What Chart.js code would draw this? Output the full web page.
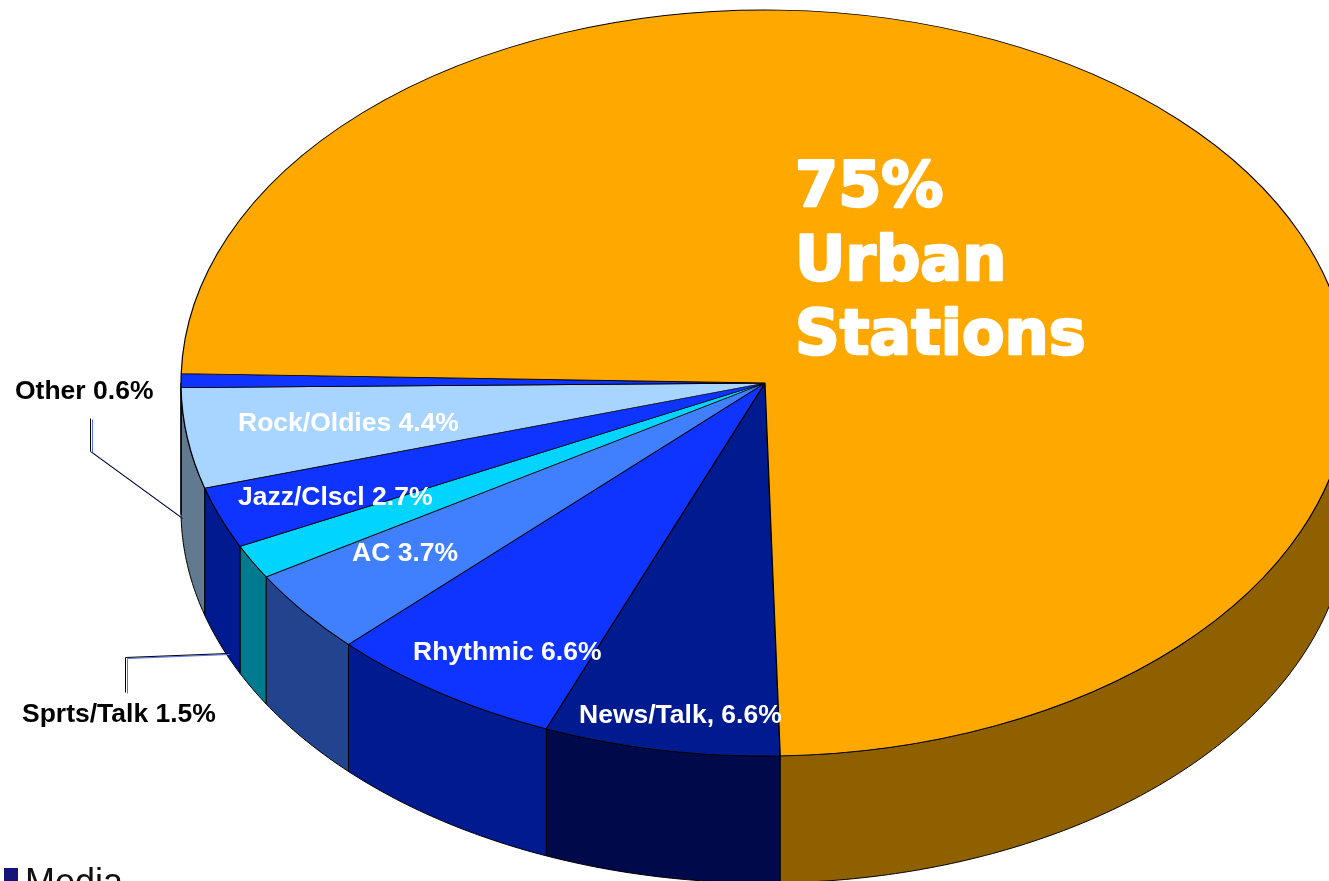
<!DOCTYPE html>
<html lang="en">
<head>
<meta charset="utf-8">
<title>Urban Stations</title>
<script src="https://cdn.jsdelivr.net/npm/chart.js@4/dist/chart.umd.min.js"></script>
<style>
  html, body { margin: 0; padding: 0; background: #fff; overflow: hidden; }
  canvas { display: block; }
</style>
</head>
<body>
<canvas id="grafico_pizza" width="1329" height="881"></canvas>
<script>
// fatias no sentido horário, começando embaixo
const categorias = ['News/Talk', 'Rhythmic', 'AC', 'Sprts/Talk', 'Jazz/Clscl', 'Rock/Oldies', 'Other', 'Urban']
const valores = [6.6, 6.6, 3.7, 1.5, 2.7, 4.4, 0.6, 75]
const separadores = [',', '', '', '', '', '', '', '']
const coresTopo = ['#001a8f', '#1034ff', '#4080ff', '#00d4ff', '#1034ff', '#a8d5ff', '#1034ff', '#ffa800']
const coresLado = ['#000a4a', '#001a8f', '#22448f', '#007a8f', '#001a8f', '#627a90', '#001a8f', '#8f6000']

// posição dos textos (x esquerdo, linha de base) e cor
const posRotulos = [[579, 723], [413, 660], [352, 561], [22, 722], [238, 505], [238, 431], [15, 399], [795, 206]]
const corRotulos = ['#fff', '#fff', '#fff', '#000', '#fff', '#fff', '#000', '#fff']

// linhas de chamada das fatias pequenas
const chamadas = [
  [[90, 418], [90, 451], [182, 518]],
  [[125, 692], [125, 657], [227, 653]]
]

const inclinacao = 373 / 584 // achatamento da elipse
const profundidade = 127     // altura da lateral

function pontoBorda(cx, cy, r, a) {
  return [cx + r * Math.cos(a), cy + r * Math.sin(a) * inclinacao]
}

const pizza3d = {
  id: 'pizza3d',
  beforeDatasetsDraw(chart) {
    const ctx = chart.ctx
    const arcos = chart.getDatasetMeta(0).data
    const cx = arcos[0].x, cy = arcos[0].y, r = arcos[0].outerRadius

    // laterais: só a metade da frente aparece
    arcos.forEach((arco, i) => {
      for (let k = -1; k <= 2; k++) {
        const ini = Math.max(arco.startAngle, 2 * Math.PI * k)
        const fim = Math.min(arco.endAngle, 2 * Math.PI * k + Math.PI)
        if (fim <= ini) continue
        const passos = Math.max(2, Math.ceil((fim - ini) * 80))
        ctx.beginPath()
        for (let s = 0; s <= passos; s++) {
          const [x, y] = pontoBorda(cx, cy, r, ini + (fim - ini) * s / passos)
          s === 0 ? ctx.moveTo(x, y) : ctx.lineTo(x, y)
        }
        for (let s = passos; s >= 0; s--) {
          const [x, y] = pontoBorda(cx, cy, r, ini + (fim - ini) * s / passos)
          ctx.lineTo(x, y + profundidade)
        }
        ctx.closePath()
        ctx.fillStyle = coresLado[i]
        ctx.fill()
        ctx.strokeStyle = '#000'
        ctx.lineWidth = 1
        ctx.stroke()
      }
    })

    // o topo é desenhado achatado
    ctx.save()
    ctx.translate(cx, cy)
    ctx.scale(1, inclinacao)
    ctx.translate(-cx, -cy)
  },
  afterDatasetsDraw(chart) {
    chart.ctx.restore()
  },
  afterDraw(chart) {
    const ctx = chart.ctx
    ctx.save()

    // linhas de chamada (preta com reflexo azul)
    chamadas.forEach((linha) => {
      ctx.lineWidth = 1
      ctx.strokeStyle = '#5070ff'
      ctx.beginPath()
      linha.forEach(([x, y], j) => j === 0 ? ctx.moveTo(x + 2.5, y + 1.5) : ctx.lineTo(x + 2.5, y + 1.5))
      ctx.stroke()
      ctx.strokeStyle = '#000'
      ctx.beginPath()
      linha.forEach(([x, y], j) => j === 0 ? ctx.moveTo(x + 0.5, y + 0.5) : ctx.lineTo(x + 0.5, y + 0.5))
      ctx.stroke()
    })

    ctx.textAlign = 'left'
    ctx.textBaseline = 'alphabetic'
    ctx.lineJoin = 'round'
    categorias.forEach((cat, i) => {
      const [x, y] = posRotulos[i]
      ctx.fillStyle = corRotulos[i]
      ctx.strokeStyle = corRotulos[i]
      if (cat === 'Urban') {
        // texto grande, engrossado com contorno
        ctx.font = 'bold 62px "DejaVu Sans"'
        ctx.lineWidth = 2.5
        const linhas = [valores[i] + '%', cat, 'Stations']
        linhas.forEach((t, j) => {
          ctx.fillText(t, x, y + j * 74)
          ctx.strokeText(t, x, y + j * 74)
        })
      } else {
        ctx.font = 'bold 26.5px "Liberation Sans", Arial, sans-serif'
        ctx.fillText(cat + separadores[i] + ' ' + valores[i].toFixed(1) + '%', x, y)
      }
    })

    // resto da legenda cortada no rodapé
    ctx.fillStyle = '#14147a'
    ctx.fillRect(4, 868, 14, 14)
    ctx.fillStyle = '#111'
    ctx.font = '36px "Liberation Sans", Arial, sans-serif'
    ctx.fillText('Media', 25, 894)
    ctx.restore()
  }
}

const ctx = document.getElementById('grafico_pizza').getContext('2d')
const grafico = new Chart(ctx, {
  type: 'pie',
  data: {
    labels: categorias,
    datasets: [{
      data: valores,
      backgroundColor: coresTopo,
      borderColor: '#000',
      borderWidth: 1.2,
      radius: 584,
      rotation: 178.5,
      clip: false
    }]
  },
  options: {
    responsive: false,
    animation: false,
    events: [],
    layout: { padding: { left: 201, right: 0, top: 0, bottom: 115 } },
    plugins: {
      legend: { display: false },
      tooltip: { enabled: false }
    }
  },
  plugins: [pizza3d]
})
</script>
</body>
</html>
